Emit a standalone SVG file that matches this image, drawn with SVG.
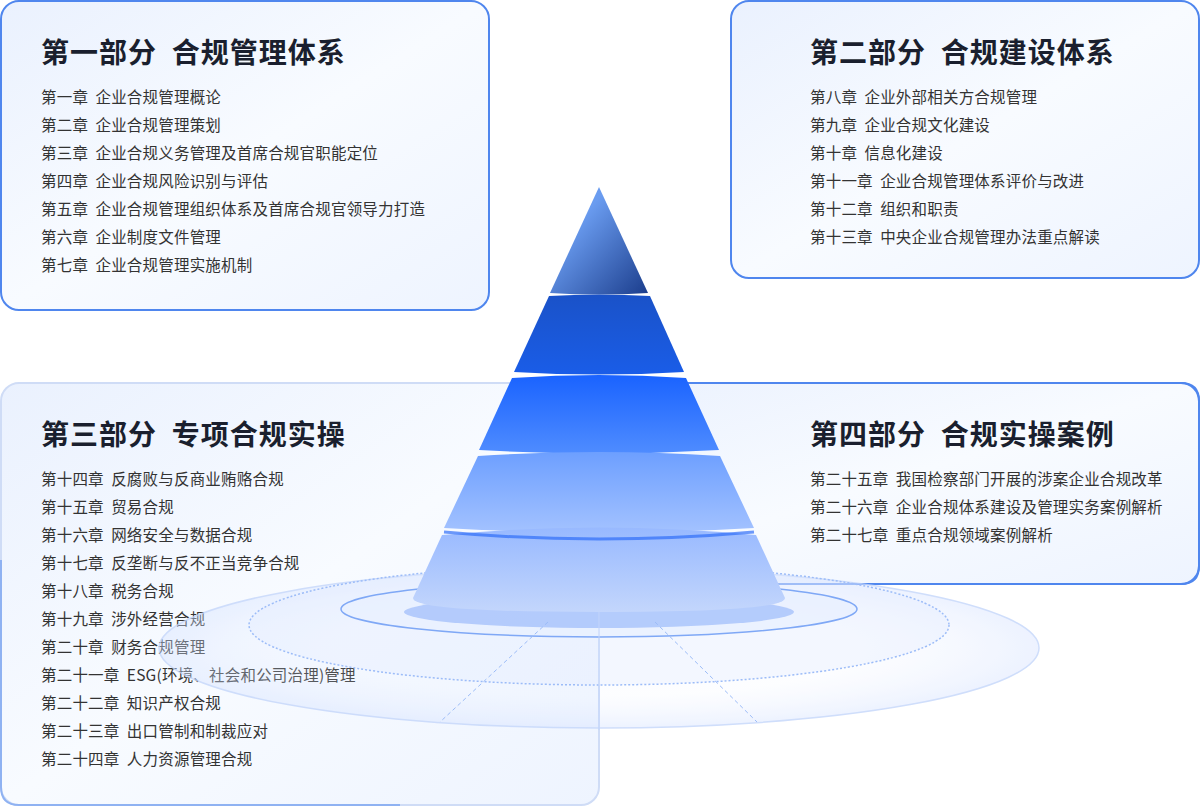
<svg xmlns="http://www.w3.org/2000/svg" width="1200" height="806" viewBox="0 0 1200 806">
<defs>
<linearGradient id="bx" x1="0" y1="0" x2="1" y2="1"><stop offset="0" stop-color="#eaf1fe"/><stop offset="0.5" stop-color="#f8fbff"/><stop offset="1" stop-color="#eef4ff"/></linearGradient>
<linearGradient id="t1" x1="0" y1="0" x2="1" y2="1"><stop offset="0.3" stop-color="#6a9cf0"/><stop offset="1" stop-color="#1b3d8c"/></linearGradient>
<linearGradient id="t2" x1="0" y1="0" x2="0" y2="1"><stop offset="0" stop-color="#1a52c8"/><stop offset="1" stop-color="#1a5de8"/></linearGradient>
<linearGradient id="t3" x1="0" y1="0" x2="0" y2="1"><stop offset="0" stop-color="#1a63ff"/><stop offset="1" stop-color="#4f8cff"/></linearGradient>
<linearGradient id="t4" x1="0" y1="0" x2="0" y2="1"><stop offset="0" stop-color="#6d9fff"/><stop offset="1" stop-color="#a3c2ff"/></linearGradient>
<linearGradient id="t5" x1="0" y1="0" x2="0" y2="1"><stop offset="0" stop-color="#98b9ff"/><stop offset="1" stop-color="#c3d6fc"/></linearGradient>
<radialGradient id="rg"><stop offset="0.6" stop-color="#e6eeff" stop-opacity="0.1"/><stop offset="1" stop-color="#d3e1ff" stop-opacity="0.5"/></radialGradient>
</defs>
<style>
.box{fill:url(#bx);stroke:#4f86ee;stroke-width:2}
.box3{fill:url(#bx);stroke:#cfdcf6;stroke-width:2}
.h{font-family:"Noto Sans CJK SC","Noto Sans",sans-serif;font-size:28px;font-weight:bold;fill:#1a1f2e;white-space:pre;letter-spacing:1px}
.i{font-family:"Noto Sans CJK SC","Noto Sans",sans-serif;font-size:15.5px;fill:#333;white-space:pre;letter-spacing:0.2px}
</style>
<rect width="1200" height="806" fill="#fff"/>
<g id="box1"><rect class="box" x="1" y="1" width="488" height="309" rx="18"/>
<text class="h" x="41" y="63">第一部分  合规管理体系</text>
<text class="i" x="41" y="103">第一章  企业合规管理概论</text>
<text class="i" x="41" y="131">第二章  企业合规管理策划</text>
<text class="i" x="41" y="159">第三章  企业合规义务管理及首席合规官职能定位</text>
<text class="i" x="41" y="187">第四章  企业合规风险识别与评估</text>
<text class="i" x="41" y="215">第五章  企业合规管理组织体系及首席合规官领导力打造</text>
<text class="i" x="41" y="243">第六章  企业制度文件管理</text>
<text class="i" x="41" y="271">第七章  企业合规管理实施机制</text></g>
<g id="box2"><rect class="box" x="731" y="1" width="468" height="277" rx="18"/>
<text class="h" x="810" y="63">第二部分  合规建设体系</text>
<text class="i" x="810" y="103">第八章  企业外部相关方合规管理</text>
<text class="i" x="810" y="131">第九章  企业合规文化建设</text>
<text class="i" x="810" y="159">第十章  信息化建设</text>
<text class="i" x="810" y="187">第十一章  企业合规管理体系评价与改进</text>
<text class="i" x="810" y="215">第十二章  组织和职责</text>
<text class="i" x="810" y="243">第十三章  中央企业合规管理办法重点解读</text></g>
<g id="box4"><rect class="box" x="560" y="383" width="639" height="201" rx="18" stroke="#cfdcf6"/>
<path d="M740 383 H1181 Q1199 383 1199 401 V566 Q1199 584 1181 584 H1000" fill="none" stroke="#4f86ee" stroke-width="2"/>
<text class="h" x="810" y="445">第四部分  合规实操案例</text>
<text class="i" x="810" y="485">第二十五章  我国检察部门开展的涉案企业合规改革</text>
<text class="i" x="810" y="513">第二十六章  企业合规体系建设及管理实务案例解析</text>
<text class="i" x="810" y="541">第二十七章  重点合规领域案例解析</text></g>
<g id="box3"><rect class="box3" x="1" y="383" width="598" height="422" rx="18"/>
<path d="M1 560 V787 Q1 805 19 805 H400" fill="none" stroke="#8fb2f2" stroke-width="2"/>
<text class="h" x="41" y="445">第三部分  专项合规实操</text>
<text class="i" x="41" y="485">第十四章  反腐败与反商业贿赂合规</text>
<text class="i" x="41" y="513">第十五章  贸易合规</text>
<text class="i" x="41" y="541">第十六章  网络安全与数据合规</text>
<text class="i" x="41" y="569">第十七章  反垄断与反不正当竞争合规</text>
<text class="i" x="41" y="597">第十八章  税务合规</text>
<text class="i" x="41" y="625">第十九章  涉外经营合规</text>
<text class="i" x="41" y="653">第二十章  财务合规管理</text>
<text class="i" x="41" y="681">第二十一章  ESG(环境、社会和公司治理)管理</text>
<text class="i" x="41" y="709">第二十二章  知识产权合规</text>
<text class="i" x="41" y="737">第二十三章  出口管制和制裁应对</text>
<text class="i" x="41" y="765">第二十四章  人力资源管理合规</text></g>
<g id="base">
<ellipse cx="599" cy="648" rx="440" ry="80" fill="url(#rg)" stroke="#c4d6fb" stroke-width="1.5" opacity="0.8"/>
<ellipse cx="599" cy="625" rx="350" ry="60" fill="#e3ecff" fill-opacity="0.35" stroke="#9cbcf8" stroke-width="1.5" stroke-dasharray="2 2"/>
<ellipse cx="599" cy="609" rx="258" ry="28" fill="#e9f0ff" fill-opacity="0.8" stroke="#7fa8f6" stroke-width="1.5"/>
<ellipse cx="599" cy="612" rx="195" ry="16" fill="#7ea6fa" opacity="0.5"/>
<line x1="548" y1="622" x2="440" y2="722" stroke="#9cbcf8" stroke-dasharray="4 3"/>
<line x1="655" y1="622" x2="757" y2="722" stroke="#9cbcf8" stroke-dasharray="4 3"/>
<line x1="599" y1="600" x2="599" y2="730" stroke="#c4d6fb"/>
</g>
<g id="pyramid">
<path d="M599 187 L648 293 Q599 296 550 293 Z" fill="url(#t1)"/>
<path d="M549 296 Q599 293 650 296 L684 372 Q599 377 514 372 Z" fill="url(#t2)"/>
<path d="M512 378 Q599 372 686 378 L719 450 Q599 457 479 450 Z" fill="url(#t3)"/>
<path d="M478 456 Q599 448 720 456 L754 528 Q599 537 444 528 Z" fill="url(#t4)"/>
<path d="M442 535 Q599 520 756 535 L785 598 Q785 612 599 612 Q413 612 413 598 Z" fill="url(#t5)"/>
<path d="M444 532 Q599 546 754 532" fill="none" stroke="#2f6ef8" stroke-width="3" opacity="0.7"/>
</g>
</svg>
